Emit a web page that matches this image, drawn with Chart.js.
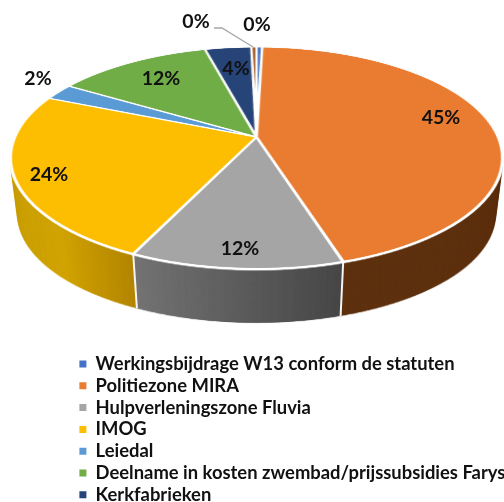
<!DOCTYPE html>
<html><head><meta charset="utf-8">
<style>html,body{margin:0;padding:0;background:#fff;overflow:hidden}canvas{display:block;filter:blur(0.5px)}</style>
<script src="https://cdn.jsdelivr.net/npm/chart.js@4"></script>
</head><body>
<canvas id="c" width="504" height="502"></canvas>
<script>
const categories = ["Werkingsbijdrage W13 conform de statuten","Politiezone MIRA","Hulpverleningszone Fluvia","IMOG","Leiedal","Deelname in kosten zwembad/prijssubsidies Farys","Kerkfabrieken","Overige"];
const shares = [0.45,44.8,11.7,24.4,2.4,12.2,3.65,0.4];
const colors = ["#4472c4","#e97c30","#a5a5a5","#fdbd00","#5b9bd5","#70ad47","#264478","#9e480e"];
const FONT = "Lato, Carlito, sans-serif";
const labelSpots = [[257,25],[441,118],[240,249],[49,175],[38,79],[161,79],[236,69],[196,22]];
// projection of the flat pie onto the tilted plane
const AX=256.5, AY=137, B=107, K=-0.189, CW=241.6;
const invV = d => d/(B-K*d);
function sideColor(ctx,i,cx,R){
  const g=ctx.createLinearGradient(cx-R,0,cx+R,0);
  const at=u=>Math.min(1,Math.max(0,(u+1)/2));
  if(i===3){g.addColorStop(at(-1),"#c9a008");g.addColorStop(at(-.7),"#d2a404");g.addColorStop(at(-.42),"#b38500");return g;}
  if(i===2){g.addColorStop(at(-.42),"#747474");g.addColorStop(at(.3),"#474747");return g;}
  if(i===1)return "#5f3210";
  return "#444";
}
function warp(src,S,cx,cy,R){
  const cv=document.createElement("canvas");cv.width=504;cv.height=502;
  const x=cv.getContext("2d");x.imageSmoothingQuality="high";
  for(let y=40;y<280;y++){
    let v0=invV(y-AY),v1=invV(y+1-AY);
    const lim=1+3/R;
    if(v1<-lim||v0>lim)continue;
    v0=Math.max(v0,-lim);v1=Math.min(v1,lim);
    const w=1+K*(v0+v1)/2, half=CW/w*(R+3)/R;
    x.drawImage(src,(cx-R-3)*S,(cy+v0*R)*S,(2*R+6)*S,(v1-v0)*R*S,AX-half,y,2*half,1);
  }
  return cv;
}
const tilt3d={
  id:"tilt3d",
  afterUpdate(chart){const l=chart.legend;l.left=76;l.top=351.4;l.right=l.left+430;l.bottom=540;},
  beforeDatasetsDraw(chart){
    const off=document.createElement("canvas");off.width=1008;off.height=1004;
    const o=off.getContext("2d");o.scale(2,2);
    chart.$main=chart.ctx;chart.$off=off;
    chart.ctx=o;chart.getDatasetMeta(0).controller._ctx=o;
  },
  afterDatasetsDraw(chart){
    const main=chart.$main,meta=chart.getDatasetMeta(0),arcs=meta.data;
    chart.ctx=main;meta.controller._ctx=main;
    const a0=arcs[0],cx=a0.x,cy=a0.y,R=a0.outerRadius;
    const side=document.createElement("canvas");side.width=1008;side.height=1004;
    const s=side.getContext("2d");s.scale(2,2);
    arcs.forEach((a,i)=>{
      const saved=a.options;
      a.options={...saved,borderWidth:0,backgroundColor:sideColor(s,i,cx,R)};
      a.draw(s,chart.chartArea);
      a.options=saved;
    });
    const top=warp(chart.$off,2,cx,cy,R), wall=warp(side,2,cx,cy,R);
    const SY=158,DEPTH=57.3,SHR=.03;
    const layer=t=>({k:1-SHR*t,o:DEPTH*t});
    for(let n=70;n>=0;n--){
      const {k,o}=layer(n/70);
      main.save();
      main.translate(AX,SY+o);main.scale(k,k);main.translate(-AX,-SY);
      main.drawImage(wall,0,0);
      main.restore();
    }
    // white seams on the wall where slices meet at the front
    main.save();main.strokeStyle="#f4f4f4";main.lineWidth=2;
    arcs.forEach(a=>{
      const th=a.startAngle, u=Math.cos(th), v=Math.sin(th);
      if(v<0.3)return;
      const w=1+K*v, px=AX+CW*u/w, py=AY+B*v/w;
      const e=layer(1), qx=AX+(px-AX)*e.k, qy=SY+(py-SY)*e.k+e.o;
      main.beginPath();main.moveTo(px,py);main.lineTo(qx,qy);main.stroke();
    });
    main.restore();
    // white rim along the front edge of the top face
    const rim=document.createElement("canvas");rim.width=504;rim.height=502;
    const r=rim.getContext("2d");r.drawImage(wall,0,0);r.globalCompositeOperation="source-in";r.fillStyle="#fff";r.fillRect(0,0,504,502);
    main.drawImage(rim,0,1.4);
    main.drawImage(top,0,0);
    // percentage labels
    const total=shares.reduce((p,c)=>p+c,0);
    main.save();
    main.strokeStyle="#a6a6a6";main.lineWidth=1.3;
    main.beginPath();main.moveTo(214,28);main.lineTo(222,28);main.lineTo(253,47);main.stroke();
    main.fillStyle="#111";main.font="bold 19.5px "+FONT;main.textAlign="center";main.textBaseline="middle";
    shares.forEach((val,i)=>{main.fillText(Math.round(val/total*100)+"%",labelSpots[i][0],labelSpots[i][1]);});
    main.restore();
  }
};
new Chart(document.getElementById("c"),{
  type:"pie",
  data:{labels:categories,datasets:[{data:shares,backgroundColor:colors,borderColor:"#ffffff",borderWidth:3}]},
  options:{
    responsive:false,animation:false,
    layout:{padding:0},
    plugins:{
      tooltip:{enabled:false},
      legend:{
        position:"left",align:"start",maxWidth:6,
        labels:{
          boxWidth:7,boxHeight:7,padding:3.4,color:"#111",
          font:{family:FONT,size:18.4,weight:"bold"},
          generateLabels(ch){
            return Chart.overrides.pie.plugins.legend.labels.generateLabels(ch).map(l=>({...l,lineWidth:0}));
          },
          filter:(item,d)=>item.index<7
        }
      }
    }
  },
  plugins:[tilt3d]
});
</script>
</body></html>
